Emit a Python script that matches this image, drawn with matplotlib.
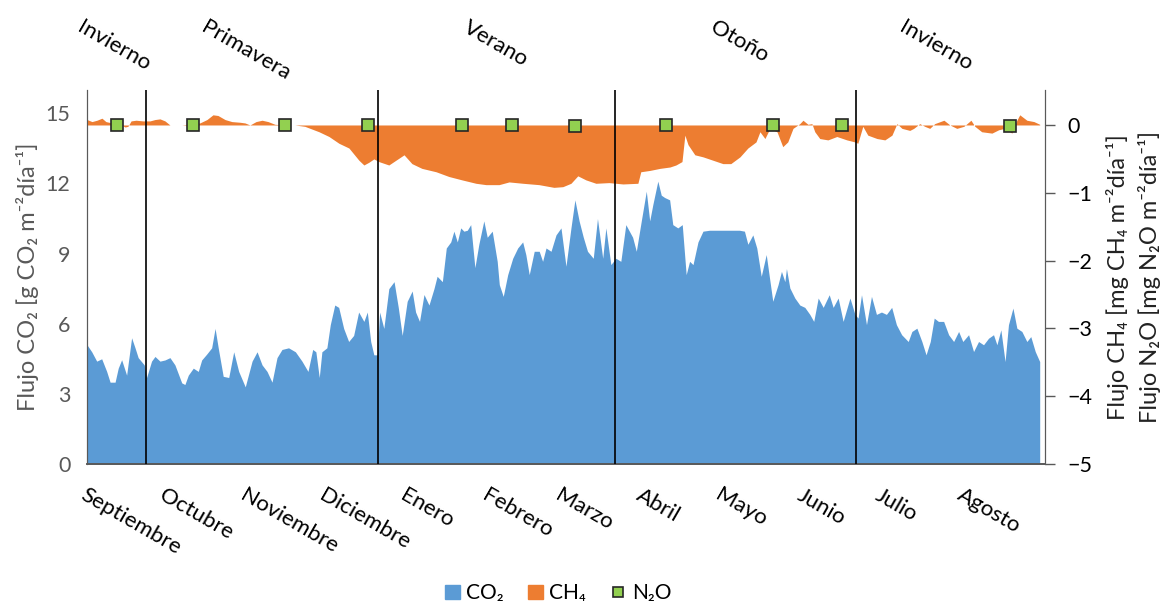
import matplotlib.pyplot as plt
from matplotlib.patches import Patch
from matplotlib.lines import Line2D

plt.rcParams['font.family'] = ['Lato', 'DejaVu Sans']

# day of year (0 = 1 Sept) and daily flux
co2 = [
    (0, 5.1), (1.8, 4.8), (3.7, 4.4), (5.6, 4.5), (7.5, 3.96), (8.8, 3.5), (10.7, 3.5),
    (11.9, 4.1), (13.2, 4.46), (15.1, 3.8), (17.0, 5.4), (18.3, 4.97), (19.5, 4.55),
    (21.8, 4.24), (22.7, 3.7), (24.6, 4.4), (25.9, 4.6), (27.8, 4.4), (29.7, 4.45),
    (31.6, 4.55), (33.5, 4.24), (36.1, 3.47), (37.3, 3.4), (38.6, 3.8), (40.5, 4.1),
    (42.4, 3.96), (43.7, 4.45), (45.6, 4.7), (47.5, 4.97), (48.8, 5.8), (50.0, 4.97),
    (51.9, 3.75), (54.0, 3.7), (55.9, 4.8), (57.8, 3.96), (60.3, 3.3), (62.9, 4.4),
    (64.8, 4.8), (66.7, 4.24), (68.6, 3.96), (70.5, 3.5), (72.4, 4.55), (74.3, 4.9),
    (76.8, 4.97), (79.4, 4.8), (81.9, 4.4), (84.2, 3.96), (86.0, 4.9), (87.2, 4.8),
    (88.5, 3.7), (89.5, 4.8), (91.4, 4.97), (92.7, 5.96), (94.4, 6.8), (95.9, 6.7),
    (97.8, 5.8), (99.7, 5.24), (101.6, 5.5), (103.5, 6.5), (105.5, 6.1), (106.8, 6.5),
    (108.1, 5.24), (109.3, 4.67), (110.6, 4.67), (111.5, 6.5), (113.1, 5.8), (115.0, 7.5),
    (117.0, 7.8), (118.6, 6.7), (120.1, 5.5), (122.0, 6.96), (123.9, 7.4), (125.2, 6.5),
    (126.7, 6.1), (128.4, 7.25), (130.3, 6.8), (132.2, 7.5), (133.4, 8.03), (135.4, 7.8),
    (136.9, 9.24), (138.6, 9.5), (139.8, 9.96), (141.1, 9.5), (142.4, 10.1), (143.6, 9.96),
    (144.9, 10.0), (146.2, 10.24), (147.8, 8.4), (149.3, 9.4), (151.2, 10.4), (152.5, 9.7),
    (154.4, 9.96), (156.3, 8.67), (157.1, 7.67), (158.6, 7.17), (160.3, 8.1), (162.2, 8.8),
    (164.1, 9.24), (166.0, 9.5), (167.2, 8.96), (168.5, 8.1), (170.4, 9.1), (172.3, 9.1),
    (173.6, 8.67), (174.9, 9.24), (176.8, 9.1), (178.7, 9.8), (180.6, 10.1), (182.5, 8.46),
    (184.4, 10.1), (185.9, 11.3), (187.5, 10.4), (189.1, 9.7), (190.7, 9.1), (192.9, 8.8),
    (194.5, 10.5), (196.5, 8.8), (197.7, 10.1), (199.6, 8.53), (201.5, 8.8), (203.4, 8.67),
    (205.3, 10.24), (207.9, 9.7), (209.3, 9.1), (211.2, 10.4), (213.1, 11.67), (214.4, 10.4),
    (215.6, 11.1), (217.5, 12.1), (218.8, 11.5), (220.1, 11.4), (222.0, 11.3), (223.2, 10.24),
    (225.1, 10.1), (226.8, 10.24), (228.3, 8.1), (229.6, 8.67), (230.9, 8.53), (232.8, 9.5),
    (234.7, 9.96), (237.2, 10.0), (241.0, 10.0), (244.8, 10.0), (248.6, 10.0), (250.5, 9.96),
    (251.8, 9.4), (253.7, 9.8), (255.2, 9.24), (256.9, 8.03), (258.8, 8.96), (261.3, 6.96),
    (263.3, 7.67), (264.6, 8.24), (265.9, 7.8), (266.5, 8.36), (267.8, 7.53), (269.7, 7.1),
    (271.6, 6.8), (273.5, 6.7), (275.4, 6.4), (276.9, 6.1), (278.6, 7.1), (280.5, 6.7),
    (282.8, 7.24), (284.3, 6.7), (286.2, 7.1), (288.1, 6.1), (290.7, 7.1), (292.6, 6.4),
    (293.8, 6.24), (295.1, 7.24), (297.0, 5.96), (298.9, 7.17), (300.8, 6.4), (302.7, 6.5),
    (304.6, 6.4), (306.6, 6.7), (308.4, 5.96), (310.4, 5.53), (312.9, 5.24), (314.3, 5.67),
    (316.2, 5.81), (318.1, 5.24), (319.7, 4.67), (321.3, 5.24), (322.8, 6.24), (324.4, 6.1),
    (326.4, 6.1), (328.3, 5.53), (330.2, 5.24), (332.1, 5.67), (333.7, 5.24), (335.9, 5.53),
    (337.8, 4.81), (339.7, 5.24), (341.6, 5.1), (343.5, 5.38), (345.4, 5.53), (346.7, 5.1),
    (348.2, 5.74), (349.8, 4.38), (351.1, 5.96), (352.8, 6.67), (354.3, 5.81), (356.2, 5.67),
    (358.1, 5.24), (359.6, 5.45), (361.3, 4.81), (363.0, 4.38),
]

ch4 = [
    (0, 0.08), (1.9, 0.05), (3.8, 0.07), (5.7, 0.1), (7.2, 0.05), (9.5, 0.03), (12.6, 0.01),
    (14.5, -0.03), (15.6, -0.02), (16.8, 0.06), (18.7, 0.07), (21.3, 0.06), (24.0, 0.06),
    (25.9, 0.08), (27.8, 0.09), (29.7, 0.06), (31.6, 0.0), (33.5, 0.0), (36.2, 0.0),
    (38.1, 0.01), (40.4, 0.01), (43.0, 0.03), (45.7, 0.08), (48.0, 0.15), (49.9, 0.14),
    (52.6, 0.08), (55.2, 0.05), (58.3, 0.04), (60.2, 0.03), (62.1, 0.0), (64.4, 0.05),
    (66.7, 0.07), (69.0, 0.05), (71.6, 0.01), (75.4, 0.0), (79.2, 0.0), (83.0, -0.02),
    (85.7, -0.06), (88.4, -0.1), (92.2, -0.17), (96.0, -0.27), (99.8, -0.34), (103.6, -0.52),
    (105.5, -0.59), (107.4, -0.55), (109.3, -0.5), (111.2, -0.54), (115.0, -0.59),
    (117.7, -0.52), (120.8, -0.44), (123.8, -0.57), (127.6, -0.64), (133.0, -0.69),
    (137.9, -0.76), (142.9, -0.81), (148.2, -0.86), (152.0, -0.88), (157.0, -0.88),
    (160.8, -0.84), (166.1, -0.86), (172.2, -0.88), (177.9, -0.92), (181.3, -0.91),
    (184.4, -0.86), (187.0, -0.75), (190.1, -0.81), (193.9, -0.86), (198.9, -0.85),
    (204.2, -0.87), (209.9, -0.86), (211.0, -0.69), (214.5, -0.67), (218.3, -0.64),
    (222.1, -0.62), (224.4, -0.59), (226.7, -0.54), (227.8, -0.15), (229.0, -0.29),
    (231.6, -0.44), (234.7, -0.47), (238.5, -0.52), (242.3, -0.57), (245.3, -0.57),
    (248.8, -0.47), (251.8, -0.34), (254.9, -0.25), (256.4, -0.1), (258.3, -0.2),
    (260.2, -0.05), (262.9, -0.1), (265.1, -0.32), (267.0, -0.25), (269.0, -0.05),
    (271.6, 0.02), (272.8, 0.07), (274.7, 0.01), (276.2, 0.02), (277.3, -0.1), (279.2, -0.2),
    (282.3, -0.22), (285.7, -0.17), (289.5, -0.22), (292.6, -0.25), (293.7, -0.27),
    (295.6, -0.02), (297.5, -0.15), (301.0, -0.2), (304.0, -0.22), (306.7, -0.15),
    (308.6, 0.02), (310.5, -0.05), (313.5, -0.08), (315.0, -0.05), (317.3, 0.02),
    (319.2, -0.02), (321.1, -0.05), (323.0, 0.02), (326.5, 0.07), (328.8, 0.0),
    (331.4, -0.05), (334.1, -0.02), (336.8, 0.07), (338.3, -0.02), (340.9, -0.1),
    (344.8, -0.12), (347.4, -0.07), (349.7, -0.05), (352.4, -0.12), (354.3, 0.07),
    (355.4, 0.15), (358.1, 0.07), (360.8, 0.05), (363.0, 0.01),
]

n2o_days = [11.4, 40.4, 75.4, 107.0, 142.9, 161.9, 185.9, 220.6, 261.3, 287.6, 351.6]
n2o_vals = [0.0, 0.0, 0.0, 0.0, 0.0, 0.0, -0.02, 0.0, 0.0, 0.0, -0.02]

season_breaks = [22.5, 111, 201, 293]
seasons = ["Invierno", "Primavera", "Verano", "Otoño", "Invierno"]
month_starts = [0, 30, 61, 91, 122, 153, 181, 212, 242, 273, 303, 334]
months = ["Septiembre", "Octubre", "Noviembre", "Diciembre", "Enero", "Febrero",
          "Marzo", "Abril", "Mayo", "Junio", "Julio", "Agosto"]

blue = "#5B9BD5"
orange = "#ED7D31"
green = "#92D050"
grey = "#595959"

fig = plt.figure(figsize=(11.63, 6.04), dpi=100)
ax = fig.add_axes([0.0748, 0.2318, 0.8237, 0.6192])
ax2 = ax.twinx()

d, v = zip(*co2)
ax.fill_between(d, v, 0, color=blue, lw=0)
d, v = zip(*ch4)
ax2.fill_between(d, v, 0, color=orange, lw=0)

for b in season_breaks:
    ax2.axvline(b, color="black", lw=1.2, zorder=3)
ax2.plot(n2o_days, n2o_vals, ls="none", marker="s", ms=8, mfc=green,
         mec="#262626", mew=1.2, zorder=4)

ax.set_xlim(0, 365)
ax.set_ylim(0, 16)
ax2.set_ylim(-5, 0.516)
ax.set_yticks([0, 3, 6, 9, 12, 15])
ax2.set_yticks([-5, -4, -3, -2, -1, 0])

ax.set_xticks(month_starts)
ax.set_xticklabels(months, rotation=-30, ha="left", va="top", rotation_mode="anchor",
                   fontsize=16)
ax.tick_params(axis="x", length=0, pad=15)
ax.tick_params(axis="y", length=0, pad=12, labelsize=15.5, labelcolor=grey)
ax2.tick_params(axis="y", length=7, width=1, color=grey, pad=9, labelsize=15.5)

for a in (ax, ax2):
    a.spines["top"].set_visible(False)
    a.spines["left"].set_color(grey)
    a.spines["right"].set_color(grey)
    a.spines["bottom"].set_color(grey)
    a.spines["bottom"].set_linewidth(1.2)

ax.set_ylabel("Flujo CO₂ [g CO₂ m⁻²día⁻¹]", fontsize=17, color=grey, labelpad=5)
ax2.set_ylabel("Flujo CH₄ [mg CH₄ m⁻²día⁻¹]\nFlujo N₂O [mg N₂O m⁻²día⁻¹]",
               fontsize=17, color="#222222", labelpad=10, linespacing=1.45)

season_x = [-1, 46, 146, 240, 312]
for s, x in zip(seasons, season_x):
    ax.text(x, 1.195, s, transform=ax.get_xaxis_transform(), rotation=-30,
            ha="left", va="top", rotation_mode="anchor", fontsize=16, clip_on=False)

handles = [Patch(color=blue), Patch(color=orange),
           Line2D([], [], ls="none", marker="s", ms=7, mfc=green, mec="#262626", mew=1.2)]
fig.legend(handles, ["CO₂", "CH₄", "N₂O"], loc="lower center", bbox_to_anchor=(0.48, -0.03),
           ncol=3, frameon=False, fontsize=15, handlelength=0.7, handletextpad=0.3,
           columnspacing=1.2)

fig.savefig("out.png", dpi=100)
